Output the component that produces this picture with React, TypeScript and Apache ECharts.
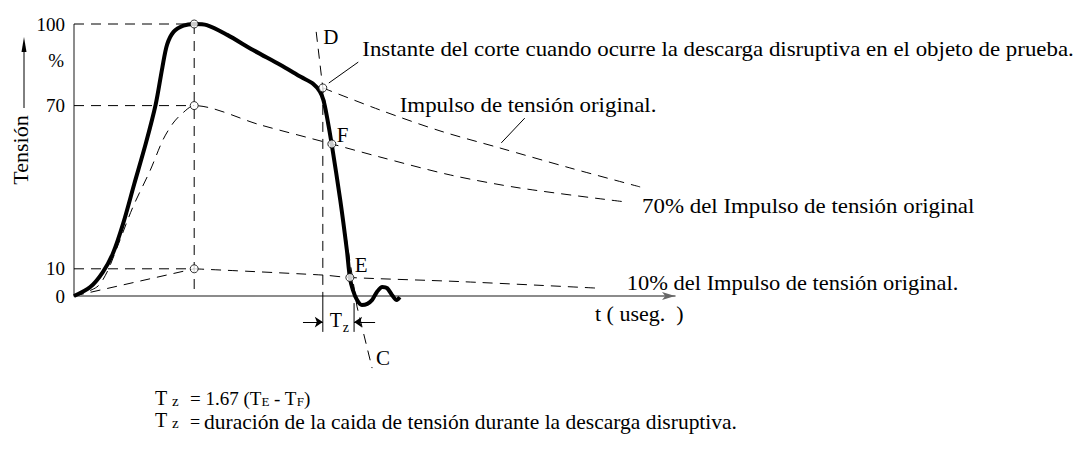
import React, { useEffect, useRef } from "react";
import * as echarts from "echarts";

const FONT = '"Liberation Serif", "Times New Roman", serif';

// y-axis tick labels (percent of the original impulse)
const yTickLabels = [0, 10, 70, 100];

// thick curve: chopped voltage impulse [t, %]
const choppedImpulse: [number, number][] = [
  [0, 0], [2.7, 3.3], [4.8, 8.8], [6.5, 15.8], [8.2, 26.8], [10.0, 41.0], [12.0, 56.5],
  [13.6, 70.5], [14.7, 84.0], [15.5, 92.5], [16.6, 97.2], [18.2, 99.4],
  [20, 100], [22.1, 99.6], [25.5, 96.0], [29.8, 90.4], [34.3, 85.0], [37.8, 80.5],
  [39.8, 78.0], [40.9, 75.2], [41.5, 72.0], [42.1, 65.8], [42.9, 55.5], [44.3, 35.3],
  [45.4, 16.9], [45.9, 6.8], [46.4, 2.2], [47.1, -1.5], [47.9, -3.3], [48.8, -2.9],
  [49.6, -1.5], [50.4, 1.5], [51.3, 3.3], [52.1, 2.9], [52.9, 0.4], [53.7, -1.5], [54.2, -0.4],
];

// continuation of the original (unchopped) impulse after D
const originalTail: [number, number][] = [
  [41.4, 76.5], [50.9, 68.4], [60.9, 60.7], [70.9, 54.4], [82.5, 47.1], [94.2, 40.1],
];

// 70 % of the original impulse
const impulse70: [number, number][] = [
  [0, 0], [3.8, 3.3], [5.5, 8.8], [7.2, 18.0], [9.8, 32.7], [12.7, 46.3], [14.8, 57.4],
  [16.5, 63.6], [18.1, 67.3], [20, 70], [31.0, 62.9], [42.9, 55.9], [50.9, 51.1],
  [62.6, 44.5], [74.2, 39.7], [91.7, 34.6],
];

// 10 % of the original impulse
const impulse10Rise: [number, number][] = [[0, 0], [20, 10]];
const impulse10Decay: [number, number][] = [[20, 10], [41.4, 7.7], [45.9, 6.8], [64.2, 5.3], [87.0, 2.9]];

// reference levels drawn from the y axis to the peak time
const peakTime = 20;
const refLevels = [100, 70, 10];

// line through D and C (front of the chopping)
const chopLine: [number, number][] = [[40.3, 97.1], [41.4, 76.5], [47.1, -4.0], [49.6, -26.5]];

// marked points
const pointD: [number, number] = [41.4, 76.5];
const pointF: [number, number] = [42.9, 55.9];
const pointE: [number, number] = [45.9, 6.8];
const openPoints: [number, number][] = [[20, 100], [20, 70], [20, 10], pointD, pointF, pointE];

// Tz dimension
const tzLevel = -9.6;
const tzLeftT = 41.4;
const tzRightT = 46.6;
const tzBottom = -13.2;

// leader lines for the annotations
const leaderInstante: [number, number][] = [[42.4, 78.3], [47.3, 86.0]];
const leaderOriginal: [number, number][] = [[75.0, 65.4], [71.1, 56.3]];

const annInstante = "Instante del corte cuando ocurre la descarga disruptiva en el objeto de prueba.";
const annOriginal = "Impulso de tensión original.";
const ann70 = "70% del Impulso de tensión original";
const ann10 = "10% del Impulso de tensión original.";
const xName = "t ( useg.  )";
const yName = "Tensión";
const defText = "duración de la caida de tensión durante la descarga disruptiva.";

export default function App() {
  const ref = useRef<HTMLDivElement>(null);
  useEffect(() => {
    const chart = echarts.init(ref.current!, null, { renderer: "svg" });
    const dashed = { color: "#000", width: 1, type: [10, 7] as any };
    const thin = { color: "#000", width: 1 };
    const ln = (name: string, data: any[], lineStyle: any, extra: any = {}) => ({
      type: "line", name, data, symbol: "none", clip: false, silent: true,
      lineStyle, z: 2, ...extra,
    });
    const series: any[] = [
      ln("yAxisLine", [[0, 0], [0, 100]], { color: "#666", width: 1.5 }),
      ...refLevels.map((lv) => ln("ref" + lv, [[0, lv], [peakTime, lv]], dashed)),
      ln("peakVertical", [[peakTime, 100], [peakTime, 2.5]], dashed),
      ln("impulse70", impulse70, dashed, { smooth: 0.3 }),
      ln("impulse10Rise", impulse10Rise, dashed),
      ln("impulse10Decay", impulse10Decay, dashed, { smooth: 0.3 }),
      ln("originalTail", originalTail, dashed, { smooth: 0.3 }),
      ln("chopLine", chopLine, dashed),
      ln("chopVertical", [[tzLeftT, pointD[1]], [tzLeftT, 0]], dashed),
      ln("chopVerticalLow", [[tzLeftT, 0], [tzLeftT, tzBottom]], thin),
      ln("tzRight", [[tzRightT, -2.6], [tzRightT, tzBottom]], thin, {
        markLine: {
          silent: true, symbol: ["none", "arrow"], symbolSize: 8,
          label: { show: false }, lineStyle: { color: "#000", width: 1, type: "solid" },
          data: [
            [{ coord: [38.1, tzLevel] }, { coord: [tzLeftT, tzLevel] }],
            [{ coord: [50.1, tzLevel] }, { coord: [tzRightT, tzLevel] }],
          ],
        },
      }),
      ln("leaderInstante", leaderInstante, thin),
      ln("leaderOriginal", leaderOriginal, thin),
      ln("chopped", choppedImpulse, { color: "#000", width: 4 }, { smooth: 0.3, z: 5 }),
      {
        type: "scatter", name: "points", data: openPoints, symbol: "circle", symbolSize: 8,
        itemStyle: { color: "#fff", borderColor: "#000", borderWidth: 1 }, z: 10, silent: true,
      },
    ];
    chart.setOption({
      animation: false,
      grid: { left: 74, top: 24, width: 601, height: 353.6 },
      xAxis: {
        type: "value", min: 0, max: 100,
        axisLine: { show: true, onZero: true, symbol: ["none", "arrow"], symbolSize: [6, 13], lineStyle: { color: "#666", width: 1.5 } },
        axisTick: { show: false }, axisLabel: { show: false }, splitLine: { show: false },
      },
      yAxis: {
        type: "value", min: -30, max: 100, interval: 10,
        axisLine: { show: false }, axisTick: { show: false }, splitLine: { show: false },
        axisLabel: {
          formatter: (v: number) => (yTickLabels.includes(v) ? String(v) : ""),
          fontFamily: FONT, fontSize: 19, color: "#000", margin: 9,
        },
      },
      series,
    });

    const P = (p: [number, number]) => chart.convertToPixel({ gridIndex: 0 }, p) as number[];
    const txt = (text: string, at: number[], dx: number, dy: number, size: number, extra: any = {}, styleExtra: any = {}) => ({
      type: "text", x: at[0] + dx, y: at[1] + dy, silent: true, z: 20,
      style: { text, fontFamily: FONT, fontSize: size, fill: "#000", align: "left", verticalAlign: "middle", ...styleExtra },
      ...extra,
    });
    const wide = { scaleX: 1.04 };
    const top = P([0, 100]);
    const origin = P([0, 0]);
    const axisEnd = P([100, 0]);
    const tzAt = P([tzLeftT, tzLevel]);
    const graphic: any[] = [
      txt(annInstante, P(leaderInstante[1]), 4, -13, 22, wide),
      txt(annOriginal, P(leaderOriginal[0]), -125, -13, 22, wide),
      txt(ann70, P(impulse70[impulse70.length - 1]), 17, 4, 22, wide),
      txt(ann10, P(impulse10Decay[impulse10Decay.length - 1]), 30, -6, 22, { scaleX: 1.02 }),
      txt(xName, axisEnd, -80, 17, 22),
      txt("D", P(chopLine[0]), 7, 5, 21),
      txt("F", P(pointF), 5, -9, 21),
      txt("E", P(pointE), 5, -13, 21),
      txt("C", P(chopLine[chopLine.length - 1]), 4, -10, 21),
      txt("T", tzAt, 7, -2, 20),
      txt("z", tzAt, 20, 5, 14),
      txt("%", top, -10, 36, 19, {}, { align: "right" }),
      txt(yName, top, -54, 126, 22, { rotation: Math.PI / 2 }, { align: "center" }),
      {
        type: "line", silent: true, z: 20,
        shape: { x1: top[0] - 50, y1: top[1] + 26, x2: top[0] - 50, y2: top[1] + 84 },
        style: { stroke: "#000", lineWidth: 1 },
      },
      {
        type: "polygon", silent: true, z: 20,
        shape: { points: [[top[0] - 50, top[1] + 13], [top[0] - 52.5, top[1] + 28], [top[0] - 47.5, top[1] + 28]] },
        style: { fill: "#000" },
      },
      // formulas under the chart
      txt("T", origin, 81, 102, 20),
      txt("z", origin, 98, 105, 15),
      txt("{n|= 1.67 (T}{s|E}{n| - T}{s|F}{n|)}", origin, 116, 102, 19, {}, {
        rich: {
          n: { fontFamily: FONT, fontSize: 19, fill: "#000" },
          s: { fontFamily: FONT, fontSize: 13, fill: "#000", padding: [7, 0, 0, 0] },
        },
      }),
      txt("T", origin, 81, 124, 20),
      txt("z", origin, 98, 127, 15),
      txt("=", origin, 116, 126, 18),
      txt(defText, origin, 130, 126, 20, { scaleX: 1.075 }),
    ];
    chart.setOption({ graphic });
    return () => chart.dispose();
  }, []);
  return (
    <div
      ref={ref}
      style={{ position: "fixed", left: 0, top: 0, width: 1084, height: 452, background: "#fff" }}
    />
  );
}
